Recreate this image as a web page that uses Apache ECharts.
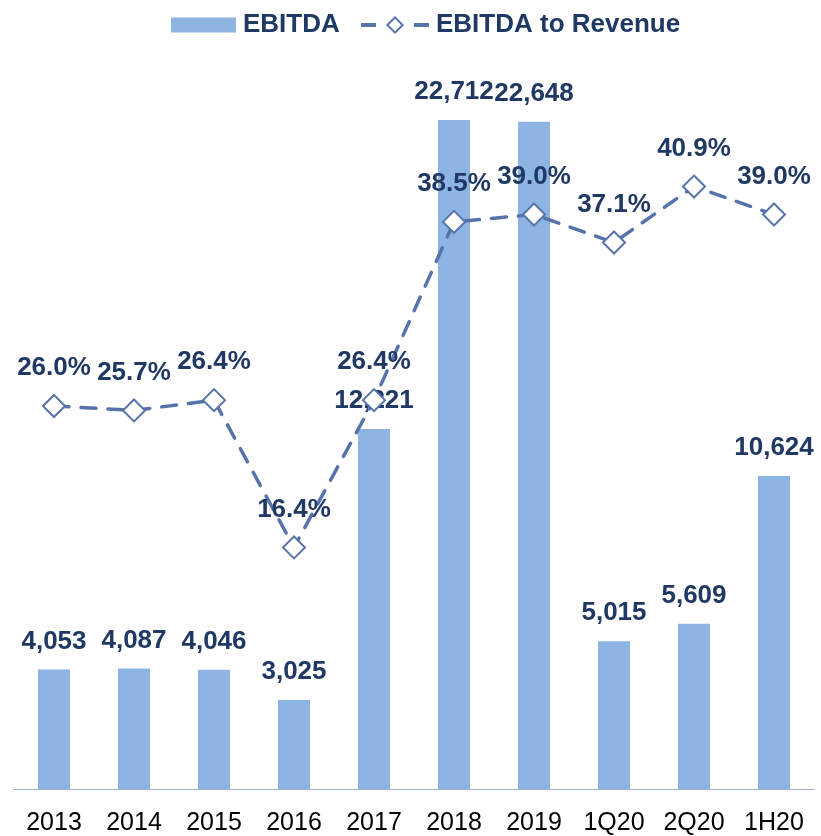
<!DOCTYPE html>
<html>
<head>
<meta charset="utf-8">
<script src="https://cdn.jsdelivr.net/npm/echarts@6/dist/echarts.min.js"></script>
<style>
  html, body { margin: 0; padding: 0; background: #fff; }
  #chart { width: 821px; height: 836px; }
</style>
</head>
<body>
<div id="chart"></div>
<script>
  // periods along the x axis
  var categories = ["2013", "2014", "2015", "2016", "2017", "2018", "2019", "1Q20", "2Q20", "1H20"];
  // EBITDA values
  var ebitda = [4053, 4087, 4046, 3025, 12221, 22712, 22648, 5015, 5609, 10624];
  // EBITDA to revenue, %
  var margin = [26.0, 25.7, 26.4, 16.4, 26.4, 38.5, 39.0, 37.1, 40.9, 39.0];

  var navy = "#1F3864";
  var lineBlue = "#5773AC";
  var font = "Liberation Sans, Arial, sans-serif";
  var legendText = { fontSize: 26, fontWeight: "bold", color: navy, fontFamily: font, padding: [0, 0, 0, 2] };

  var dom = echarts.init(document.getElementById("chart"));
  var option = {
    animation: false,
    // two legends so the bar and line keys can have their own sizes
    legend: [
      {
        top: 7,
        left: 166,
        itemWidth: 65,
        itemHeight: 15,
        icon: "rect",
        textStyle: legendText,
        data: ["EBITDA"]
      },
      {
        top: 7,
        left: 354,
        itemWidth: 68,
        itemHeight: 19,
        textStyle: legendText,
        lineStyle: { type: [15, 38], width: 4, cap: "butt" },
        data: ["EBITDA to Revenue"]
      }
    ],
    grid: { left: 14, right: 7, top: 52.5, bottom: 46 },
    xAxis: {
      type: "category",
      data: categories,
      axisLine: { lineStyle: { color: "#A3AFC8", width: 1 } },
      axisTick: { show: false },
      axisLabel: { fontSize: 25, color: "#000", margin: 22, fontFamily: font }
    },
    yAxis: [
      { type: "value", min: 0, max: 25000, show: false, splitLine: { show: false } },
      { type: "value", min: 0, max: 50, show: false, splitLine: { show: false } }
    ],
    series: [
      {
        name: "EBITDA",
        type: "bar",
        data: ebitda,
        barWidth: 32,
        itemStyle: { color: "#8EB4E3" },
        label: {
          show: true,
          position: "top",
          distance: 15,
          fontSize: 26,
          fontWeight: "bold",
          color: navy,
          fontFamily: font,
          formatter: function (p) { return p.value.toLocaleString("en-US"); }
        }
      },
      {
        name: "EBITDA to Revenue",
        type: "line",
        yAxisIndex: 1,
        data: margin,
        symbol: "diamond",
        symbolSize: 22,
        z: 3,
        lineStyle: { color: lineBlue, width: 3.5, type: [15, 12], cap: "round" },
        itemStyle: { color: "#fff", borderColor: lineBlue, borderWidth: 2 },
        label: {
          show: true,
          position: "top",
          distance: 13,
          fontSize: 26,
          fontWeight: "bold",
          color: navy,
          fontFamily: font,
          formatter: function (p) { return p.value.toFixed(1) + "%"; }
        }
      }
    ]
  };
  dom.setOption(option, true);
</script>
</body>
</html>
